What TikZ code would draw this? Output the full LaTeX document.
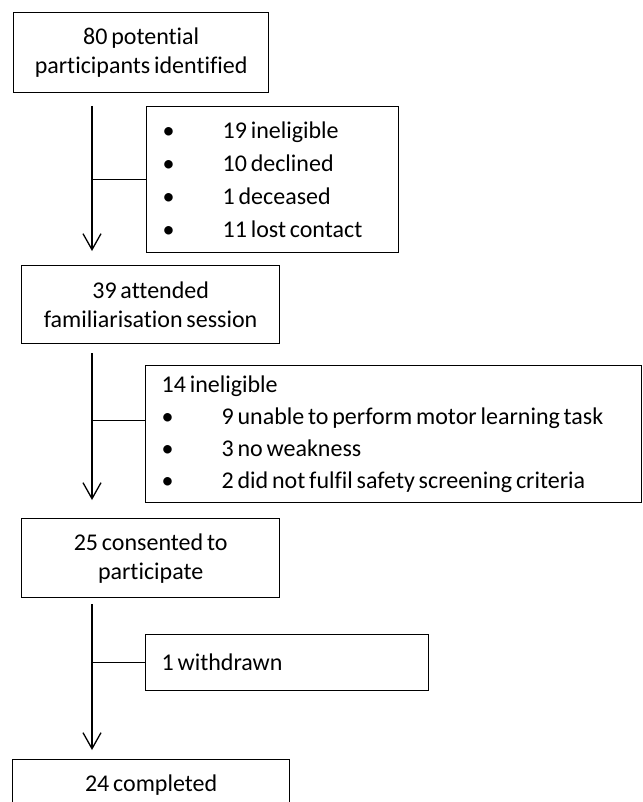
\documentclass[tikz,border=0pt]{standalone}
\usepackage{fontspec}
\setmainfont{Carlito}[Ligatures=CommonOff,WordSpace=0.7]
\usetikzlibrary{arrows.meta}
\newcommand{\bul}{\makebox[60pt][l]{\textbullet}}

\begin{document}
\begin{tikzpicture}[x=1pt,y=-1pt,
  box/.style={draw,line width=1.3pt,inner sep=0pt,anchor=north west,align=center,
    font=\fontsize{24}{29}\selectfont},
  listbox/.style={box,align=flush left,inner xsep=16pt},
  joint/.style={line width=1.3pt},
  flow/.style={joint,-{Straight Barb[length=16pt,width=18pt,line width=1.3pt]}}]
  \useasboundingbox (0,0) rectangle (642,802);
  % main stages
  \node[box,minimum width=255pt,minimum height=80pt] (potential) at (13,12)
    {80 potential\\participants identified};
  \node[box,minimum width=258pt,minimum height=78pt] (attended) at (21,265)
    {39 attended\\familiarisation session};
  \node[box,minimum width=258pt,minimum height=79pt] (consented) at (21,518)
    {25 consented to\\participate};
  \node[box,minimum width=277pt,minimum height=50pt] (completed) at (12,759)
    {24 completed};
  % exclusions
  \node[listbox,text width=220pt,minimum height=146pt,font=\fontsize{24}{33}\selectfont] (excl1) at (146,106)
    {\bul 19 ineligible\\\bul 10 declined\\\bul 1 deceased\\\bul 11 lost contact};
  \node[listbox,text width=464pt,minimum height=137pt,font=\fontsize{24}{32}\selectfont] (excl2) at (145,365)
    {14 ineligible\\\bul 9 unable to perform motor learning task\\\bul 3 no weakness\\\bul 2 did not fulfil safety screening criteria};
  \node[listbox,text width=251pt,minimum height=56pt] (withdrawn) at (145,634)
    {1 withdrawn};
  % connectors
  \coordinate (a1) at (92,106);
  \coordinate (b1) at (92,251);
  \coordinate (a2) at (92,353);
  \coordinate (b2) at (92,500);
  \coordinate (a3) at (92,604);
  \coordinate (b3) at (92,750);
  \coordinate (j2) at ([yshift=13.5pt]excl2.west);
  \draw[flow] (a1) -- (b1);
  \draw[flow] (a2) -- (b2);
  \draw[flow] (a3) -- (b3);
  \draw[joint] (a1 |- excl1.west) -- (excl1.west);
  \draw[joint] (a2 |- j2) -- (j2);
  \draw[joint] (a3 |- withdrawn.west) -- (withdrawn.west);
\end{tikzpicture}
\end{document}
